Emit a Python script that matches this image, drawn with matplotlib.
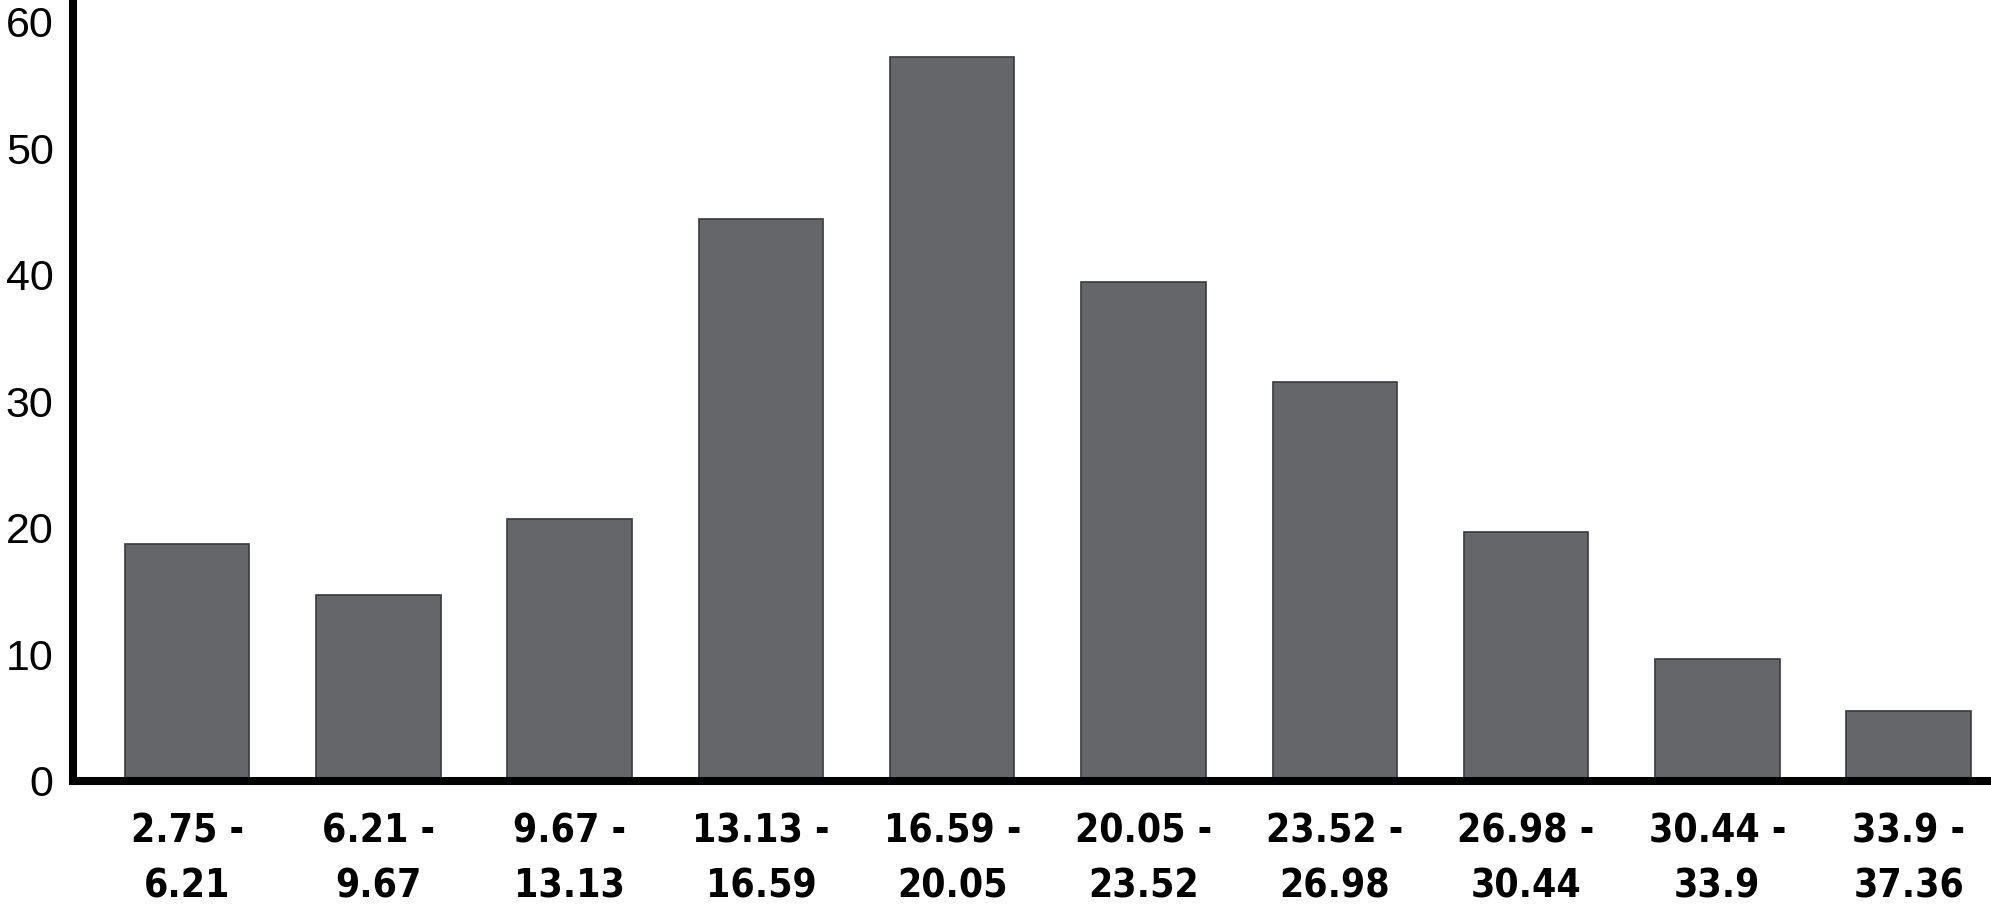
import matplotlib
matplotlib.use("Agg")
import matplotlib.pyplot as plt

# bin ranges and counts
bin_starts = ["2.75", "6.21", "9.67", "13.13", "16.59", "20.05", "23.52", "26.98", "30.44", "33.9"]
bin_ends = ["6.21", "9.67", "13.13", "16.59", "20.05", "23.52", "26.98", "30.44", "33.9", "37.36"]
counts = [18.7, 14.7, 20.7, 44.4, 57.2, 39.4, 31.5, 19.7, 9.6, 5.5]
y_ticks = [0, 10, 20, 30, 40, 50, 60]

labels = [s + " -\n" + e for s, e in zip(bin_starts, bin_ends)]
x = list(range(len(counts)))

fig = plt.figure(figsize=(19.91, 9.08), dpi=100)
ax = fig.add_axes([0.0367, 0.1399, 0.9618, 0.8601])

ax.bar(x, counts, width=0.65, color="#65666a", edgecolor="#3a3a3c",
       linewidth=1.2, zorder=2)

ax.set_xlim(-0.596, 9.415)
ax.set_ylim(0, 61.7)

for side in ["top", "right"]:
    ax.spines[side].set_visible(False)
for side in ["left", "bottom"]:
    ax.spines[side].set_linewidth(5.8)
    ax.spines[side].set_color("black")
    ax.spines[side].set_zorder(3)

ax.set_yticks(y_ticks)
ax.set_yticklabels([str(t) for t in y_ticks], fontsize=31,
                   family=["Liberation Sans", "DejaVu Sans"])
ax.tick_params(axis="y", length=0, pad=14)

# condensed bold labels, two lines per bin
ax.set_xticks(x)
ax.set_xticklabels(labels, fontsize=28, fontweight="bold", fontstretch="condensed",
                   family=["DejaVu Sans"],
                   linespacing=1.55, multialignment="center")
ax.tick_params(axis="x", length=0, pad=23)

fig.savefig("out.png", dpi=100)
